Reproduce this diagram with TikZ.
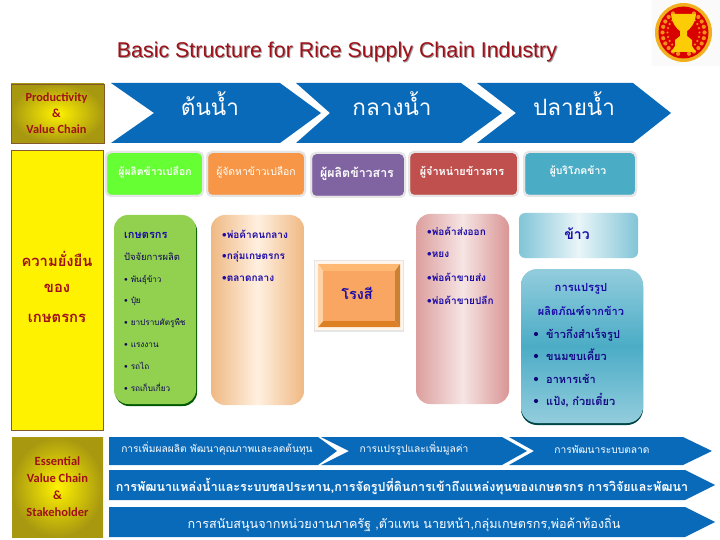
\documentclass[tikz,border=0pt]{standalone}
\usepackage{fontspec}
\setmainfont{Loma}[Script=Thai]
\newfontfamily\latinfont{Liberation Sans}
\newfontfamily\calfont{Carlito}[BoldFont=Carlito Bold]
\usetikzlibrary{shapes.geometric}
\definecolor{chainblue}{HTML}{0A6ABA}
\definecolor{darkred}{HTML}{A01018}
\definecolor{navy}{HTML}{1A0AA8}
\definecolor{olive}{HTML}{A89810}
\definecolor{orangehead}{HTML}{F79646}
\definecolor{purplehead}{HTML}{8064A2}
\definecolor{redhead}{HTML}{C0504D}
\definecolor{tealhead}{HTML}{4BACC6}
\definecolor{greenhead}{HTML}{66FF33}
\definecolor{greenbody}{HTML}{92D050}
\definecolor{logogold}{HTML}{F2B01E}
\tikzset{
  x=1pt,y=-1pt,
  chev/.style={fill=chainblue},
  headbox/.style={rounded corners=5pt,draw=black!10,line width=2pt},
  headtxt/.style={text=white,font=\bfseries\fontsize{10.4}{12}\selectfont,anchor=center,inner sep=0pt},
  bigtxt/.style={text=white,font=\fontsize{22.5}{26}\selectfont,anchor=center,inner sep=0pt},
  item/.style={text=navy,font=\bfseries\fontsize{10}{12}\selectfont,anchor=base west,inner sep=0pt},
  blacktxt/.style={text=navy!50!black,font=\fontsize{8.2}{10}\selectfont,anchor=base west,inner sep=0pt},
  sidetxt/.style={text=darkred,font=\calfont\bfseries\fontsize{12.5}{15}\selectfont,anchor=center,inner sep=0pt,align=center},
  thaiside/.style={text=darkred,font=\bfseries\fontsize{14.8}{17}\selectfont,anchor=center,inner sep=0pt},
  bandtxt/.style={text=white,font=\fontsize{10.2}{12}\selectfont,anchor=center,inner sep=0pt},
  bandbold/.style={text=white,font=\bfseries\fontsize{12.5}{14}\selectfont,anchor=center,inner sep=0pt},
}
\begin{document}
\begin{tikzpicture}
\useasboundingbox (0,0) rectangle (720,540);
\fill[white] (0,0) rectangle (720,540);
% logo
\fill[black!2] (652,0) rectangle (720,66);
\fill[logogold] (683.5,32.5) ellipse [x radius=28.5,y radius=29.5];
\fill[red!85!black] (683.5,32.5) ellipse [x radius=25,y radius=26];
\foreach \a in {120,135,...,255}{
  \fill[logogold!80!red] (683.5,32.5) ++(\a:21 and -22) circle (2.1);
  \fill[logogold!80!red] (683.5,32.5) ++(\a:16 and -17) circle (1.2);
  \fill[logogold!80!red] (683.5,32.5) ++(180-\a:21 and -22) circle (2.1);
  \fill[logogold!80!red] (683.5,32.5) ++(180-\a:16 and -17) circle (1.2);
}
\fill[yellow!65!orange] (671,14) -- (696,14) .. controls (695,24) and (690,29) .. (687,31) -- (687,36) -- (692,40) -- (692,46) -- (696,52) -- (671,52) -- (675,46) -- (675,40) -- (680,36) -- (680,31) .. controls (677,29) and (672,24) .. (671,14) -- cycle;
% title
\node[text=black!40,font=\latinfont\fontsize{21.4}{24}\selectfont,inner sep=0pt] at (338,53) {Basic Structure for Rice Supply Chain Industry};
\node (title) [text=darkred,font=\latinfont\fontsize{21.4}{24}\selectfont,inner sep=0pt] at (337,52) {Basic Structure for Rice Supply Chain Industry};
% productivity box
\shade[inner color=yellow!90!orange,outer color=olive,draw=brown!70!black,line width=.6pt] (11,84) rectangle (104,143);
\node (prod) [sidetxt,font=\calfont\bfseries\fontsize{12.3}{14}\selectfont] at (56.5,113.5) {Productivity\\[2pt]\&\\[2pt]Value Chain};
% top chevrons
\fill[chev] (111,83) -- (280,83) -- (321,113) -- (280,143) -- (111,143) -- (154,113) -- cycle;
\fill[chev] (296,83) -- (461,83) -- (502,113) -- (461,143) -- (296,143) -- (330,113) -- cycle;
\fill[chev] (477,83) -- (633,83) -- (671,113) -- (633,143) -- (477,143) -- (516,113) -- cycle;
\node (up) [bigtxt] at (210,104) {ต้นน้ำ};
\node (mid) [bigtxt] at (392,104) {กลางน้ำ};
\node (down) [bigtxt] at (574,104) {ปลายน้ำ};
% yellow side panel
\fill[yellow] (11,150) rectangle (103,430);
\draw[brown!70!black,line width=.6pt] (11,150) rectangle (103,430);
\node (s1) [thaiside] at (57,259) {ความยั่งยืน};
\node (s2) [thaiside] at (57,288) {ของ};
\node (s3) [thaiside] at (57,318) {เกษตรกร};
% heads
\fill[headbox,fill=greenhead] (106,152) rectangle (203,196);
\fill[headbox,fill=orangehead] (207,152) rectangle (305,196);
\fill[headbox,fill=purplehead] (311,153) rectangle (405,197);
\fill[headbox,fill=redhead] (409,152) rectangle (518,196);
\fill[headbox,fill=tealhead] (524,152) rectangle (636,196);
\draw[headbox] (106,152) rectangle (203,196);
\draw[headbox] (207,152) rectangle (305,196);
\draw[headbox] (311,153) rectangle (405,197);
\draw[headbox] (409,152) rectangle (518,196);
\draw[headbox] (524,152) rectangle (636,196);
\node (h1) [headtxt] at (155,172) {ผู้ผลิตข้าวเปลือก};
\node (h2) [headtxt,font=\fontsize{10.4}{12}\selectfont] at (256,172) {ผู้จัดหาข้าวเปลือก};
\node (h3) [headtxt,font=\bfseries\fontsize{12.4}{14}\selectfont] at (357,174) {ผู้ผลิตข้าวสาร};
\node (h4) [headtxt,font=\bfseries\fontsize{10.9}{12}\selectfont] at (462,172) {ผู้จำหน่ายข้าวสาร};
\node (h5) [headtxt] at (578,171) {ผู้บริโภคข้าว};
% green panel
\fill[green!35!black,rounded corners=14pt] (115,217) rectangle (197,406);
\fill[greenbody,rounded corners=14pt] (114,215) rectangle (196,404);
\node (g0) [item,font=\bfseries\fontsize{11}{12}\selectfont] at (124,238) {เกษตรกร};
\node (g1) [blacktxt,font=\fontsize{9.4}{11}\selectfont] at (124,260) {ปัจจัยการผลิต};
\node (g2) [blacktxt] at (124,282) {• พันธุ์ข้าว};
\node (g3) [blacktxt] at (124,303) {• ปุ๋ย};
\node (g4) [blacktxt] at (124,325) {• ยาปราบศัตรูพืช};
\node (g5) [blacktxt] at (124,347) {• แรงงาน};
\node (g6) [blacktxt] at (124,369) {• รถไถ};
\node (g7) [blacktxt] at (124,391) {• รถเก็บเกี่ยว};
% orange panel
\shade[rounded corners=14pt,shading angle=45,left color=orange!55!brown!55!white,right color=orange!55!brown!55!white,middle color=orange!12!white] (211,215) rectangle (304,405);
\node (o1) [item] at (222,238) {•พ่อค้าคนกลาง};
\node (o2) [item] at (222,259) {•กลุ่มเกษตรกร};
\node (o3) [item] at (222,281) {•ตลาดกลาง};
% mill
\fill[black!10] (314,260) rectangle (404,332);
\fill[orange!8!white] (315,261) rectangle (403,330);
\fill[orange!55!white] (318,264) -- (400,264) -- (395,271) -- (323,271) -- cycle;
\fill[brown!80!orange] (400,264) -- (400,327) -- (395,321) -- (395,271) -- cycle;
\fill[brown!55!orange] (318,327) -- (400,327) -- (395,321) -- (323,321) -- cycle;
\fill[orange!35!white] (318,264) -- (318,327) -- (323,321) -- (323,271) -- cycle;
\fill[orangehead!85!white] (323,271) rectangle (395,321);
\node (mill) [text=navy,font=\bfseries\fontsize{14.5}{16}\selectfont,inner sep=0pt] at (357,293) {โรงสี};
% red panel
\shade[rounded corners=14pt,shading angle=45,left color=redhead!55!white,right color=redhead!60!white,middle color=redhead!15!white] (416,214) rectangle (509,404);
\node (r1) [item] at (427,236) {•พ่อค้าส่งออก};
\node (r2) [item] at (427,258) {•หยง};
\node (r3) [item] at (427,281) {•พ่อค้าขายส่ง};
\node (r4) [item] at (427,304) {•พ่อค้าขายปลีก};
% rice box
\shade[rounded corners=6pt,shading angle=45,left color=tealhead!70!white,right color=tealhead!70!white,middle color=tealhead!12!white] (519,213) rectangle (638,258);
\node (rice) [text=navy,font=\bfseries\fontsize{14}{16}\selectfont,inner sep=0pt] at (577,234) {ข้าว};
% teal panel
\fill[teal!55!black,rounded corners=16pt] (521,270) rectangle (643,425);
\shade[rounded corners=16pt,top color=tealhead!60!white,bottom color=tealhead!60!white,middle color=tealhead] (521,269) rectangle (643,423);
\node (t1) [text=navy,font=\bfseries\fontsize{11.2}{13}\selectfont,inner sep=0pt] at (581,289) {การแปรรูป};
\node (t2) [text=navy,font=\bfseries\fontsize{11}{13}\selectfont,inner sep=0pt] at (581,311) {ผลิตภัณฑ์จากข้าว};
\foreach \n/\yy/\t in {a/338/ข้าวกึ่งสำเร็จรูป,b/360/ขนมขบเคี้ยว,c/383/อาหารเช้า,d/405/{แป้ง, ก๋วยเตี๋ยว}}{
  \node (dot\n) [circle,fill=navy!70!black,inner sep=0pt,minimum size=4.2pt] at (536,\yy-4) {};
  \node (txt\n) [item,font=\bfseries\fontsize{11}{13}\selectfont,text=navy!80!black] at (546,\yy) {\t};
}
% essential box
\shade[inner color=yellow!90!orange,outer color=olive] (12,437) rectangle (103,537);
\node (ess) [sidetxt] at (57.5,487) {Essential\\[2pt]Value Chain\\[2pt]\&\\[2pt]Stakeholder};
% bottom bands
\fill[chev] (109,437) -- (318,437) -- (337,451) -- (318,465) -- (109,465) -- cycle;
\fill[chev] (321,437) -- (502,437) -- (527,451) -- (502,465) -- (321,465) -- (349,451) -- cycle;
\fill[chev] (509,437) -- (683,437) -- (712,451) -- (683,465) -- (509,465) -- (534,451) -- cycle;
\fill[chev] (109,470) -- (685,470) -- (715,485) -- (685,500) -- (109,500) -- cycle;
\fill[chev] (109,507) -- (685,507) -- (715,522) -- (685,537) -- (109,537) -- cycle;
\node (b1) [bandtxt] at (217,449) {การเพิ่มผลผลิต พัฒนาคุณภาพและลดต้นทุน};
\node (b2) [bandtxt] at (414,449) {การแปรรูปและเพิ่มมูลค่า};
\node (b3) [bandtxt] at (602,449) {การพัฒนาระบบตลาด};
\node (b4) [bandbold] at (402,487) {การพัฒนาแหล่งน้ำและระบบชลประทาน,การจัดรูปที่ดินการเข้าถึงแหล่งทุนของเกษตรกร การวิจัยและพัฒนา};
\node (b5) [bandbold,font=\fontsize{12.6}{14}\selectfont] at (404,524) {การสนับสนุนจากหน่วยงานภาครัฐ ,ตัวแทน นายหน้า,กลุ่มเกษตรกร,พ่อค้าท้องถิ่น};
\end{tikzpicture}
\end{document}
